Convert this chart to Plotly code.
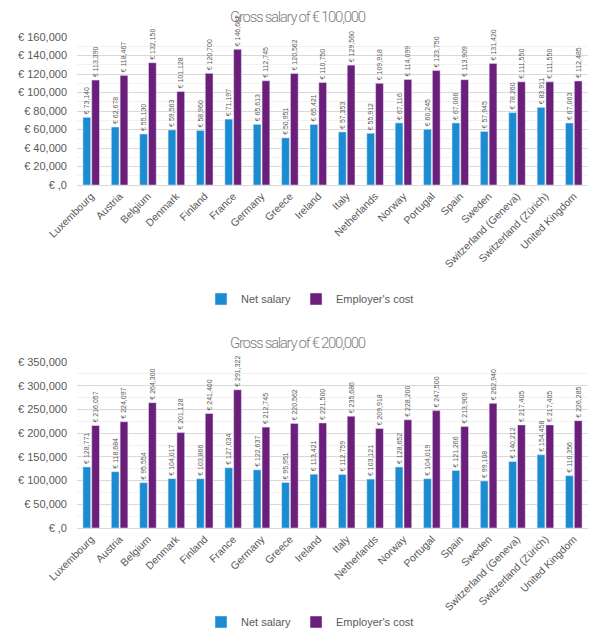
import plotly.graph_objects as go

countries = ["Luxembourg", "Austria", "Belgium", "Denmark", "Finland", "France", "Germany",
             "Greece", "Ireland", "Italy", "Netherlands", "Norway", "Portugal", "Spain",
             "Sweden", "Switzerland (Geneva)", "Switzerland (Zürich)", "United Kingdom"]

net_100k = [73140, 62678, 55130, 59563, 58960, 71197, 65613, 50951, 65421, 57353,
            55912, 67116, 60245, 67066, 57945, 78260, 83911, 67063]
cost_100k = [113390, 118467, 132150, 101128, 120700, 146682, 112745, 120562, 110750, 129560,
             109918, 114099, 123750, 113909, 131420, 111550, 111550, 112485]

net_200k = [128771, 118684, 95554, 104017, 103866, 127034, 122637, 95951, 113421, 112759,
            103121, 128652, 104019, 121266, 99108, 140212, 154458, 110356]
cost_200k = [216057, 224097, 264300, 201128, 241400, 291322, 212745, 220562, 221500, 235686,
             209918, 228200, 247500, 213909, 262940, 217405, 217405, 226285]

ticks_top = [0, 20000, 40000, 60000, 80000, 100000, 120000, 140000, 160000]
ticktext_top = ["€ ,0", "€ 20,000", "€ 40,000", "€ 60,000", "€ 80,000", "€ 100,000",
                "€ 120,000", "€ 140,000", "€ 160,000"]
ticks_bot = [0, 50000, 100000, 150000, 200000, 250000, 300000, 350000]
ticktext_bot = ["€ ,0", "€ 50,000", "€ 100,000", "€ 150,000", "€ 200,000", "€ 250,000",
                "€ 300,000", "€ 350,000"]

titles = ["Gross salary of € 100,000", "Gross salary of € 200,000"]
series_names = ["Net salary", "Employer's cost"]

BLUE = "#1B8CD2"
PURPLE = "#6B1F7B"
GRAY = "#595959"
FONT = "Liberation Sans, Arial"
LABEL_FONT = dict(family=FONT, size=7, color=GRAY)

fig = go.Figure()

def add_pair(net, cost, xa, ya, legend):
    for name, vals, col in [(series_names[0], net, BLUE), (series_names[1], cost, PURPLE)]:
        fig.add_trace(go.Bar(
            x=countries, y=vals, name=name, marker_color=col,
            xaxis=xa, yaxis=ya, legend=legend,
            texttemplate="€ %{y:,}", textposition="outside", textangle=-90,
            constraintext="none", cliponaxis=False,
            outsidetextfont=LABEL_FONT,
        ))

add_pair(net_100k, cost_100k, "x", "y", "legend")
add_pair(net_200k, cost_200k, "x2", "y2", "legend2")

W, H = 605, 642
OFF = 8  # page body margin offset


def px_x(p):
    return (p - OFF) / W


def px_y(p):
    return 1 - (p - OFF) / H


xdom = [px_x(77), px_x(588)]

axis_common = dict(
    showgrid=True, gridcolor="#D9D9D9", gridwidth=1,
    tickfont=dict(family=FONT, size=11, color=GRAY),
    zeroline=False, automargin=False, ticklabelstandoff=9,
)
xaxis_common = dict(
    tickangle=-45, tickfont=dict(family=FONT, size=10.5, color=GRAY),
    showline=True, linecolor="#D9D9D9", ticks="", domain=xdom, automargin=False,
)
legend_common = dict(orientation="h", xanchor="center", yanchor="middle",
                     font=dict(family=FONT, size=11, color=GRAY),
                     itemwidth=30, traceorder="normal", tracegroupgap=0)
title_font = dict(family="Roboto, Liberation Sans", size=15, color="#7F7F7F", weight=300)


def title_text(t):
    return '<span style="letter-spacing:-1.3px">' + t + '</span>'


fig.update_layout(
    width=W, height=H,
    margin=dict(l=0, r=0, t=0, b=0, autoexpand=False),
    paper_bgcolor="white", plot_bgcolor="white",
    barmode="group", bargap=0.38, bargroupgap=0.12,
    showlegend=True,
    xaxis=dict(**xaxis_common, anchor="y"),
    xaxis2=dict(**xaxis_common, anchor="y2"),
    yaxis=dict(**axis_common, domain=[px_y(185), px_y(37)], range=[0, 160000],
               tickvals=ticks_top, ticktext=ticktext_top, anchor="x",
               minor=dict(showgrid=True, gridcolor="#F2F2F2", dtick=10000)),
    yaxis2=dict(**axis_common, domain=[px_y(528), px_y(362)], range=[0, 350000],
                tickvals=ticks_bot, ticktext=ticktext_bot, anchor="x2",
                minor=dict(showgrid=True, gridcolor="#F2F2F2", dtick=25000)),
    legend=dict(**legend_common, x=px_x(310), y=px_y(299)),
    legend2=dict(**legend_common, x=px_x(310), y=px_y(622)),
    annotations=[
        dict(text=title_text(titles[0]), x=px_x(298), y=px_y(17), xref="paper", yref="paper",
             showarrow=False, yanchor="middle", font=title_font),
        dict(text=title_text(titles[1]), x=px_x(298), y=px_y(343), xref="paper", yref="paper",
             showarrow=False, yanchor="middle", font=title_font),
    ],
)

fig.write_html("out.html")
